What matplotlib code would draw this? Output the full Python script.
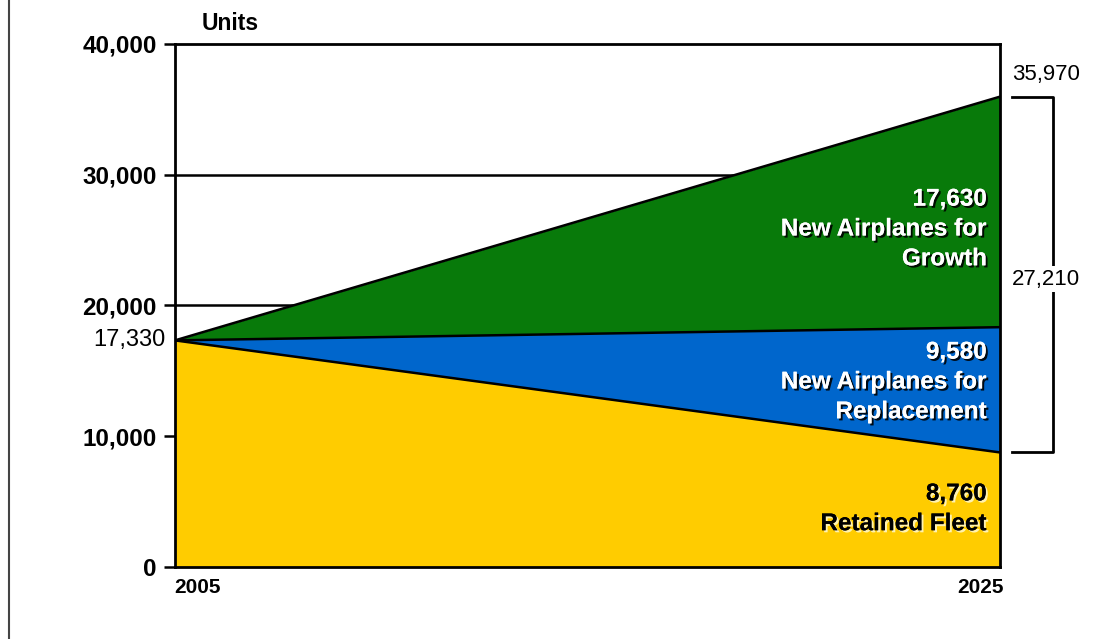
import matplotlib.pyplot as plt
import matplotlib.patheffects as pe
import matplotlib.transforms as mtransforms

# data
years = [2005, 2025]
retained = [17330, 8760]
replacement = [0, 9580]
growth = [0, 17630]
total_2025 = 35970
new_total = 27210

colors = ["#FFCC00", "#0066CC", "#087A0A"]

plt.rcParams["font.family"] = ["Liberation Sans", "DejaVu Sans"]

fig = plt.figure(figsize=(10.93, 6.39), dpi=100)
ax = fig.add_axes([0.1601, 0.1127, 0.7548, 0.8185])
bt = mtransforms.blended_transform_factory(ax.transAxes, ax.transData)

# stacked areas
lvl1 = retained
lvl2 = [a + b for a, b in zip(lvl1, replacement)]
lvl3 = [a + b for a, b in zip(lvl2, growth)]
ax.fill_between(years, 0, lvl1, color=colors[0], lw=0, zorder=2)
ax.fill_between(years, lvl1, lvl2, color=colors[1], lw=0, zorder=2)
ax.fill_between(years, lvl2, lvl3, color=colors[2], lw=0, zorder=2)
for lv in (lvl1, lvl2, lvl3):
    ax.plot(years, lv, color="black", lw=1.8, zorder=3, solid_capstyle="butt")

ax.set_xlim(2005, 2025)
ax.set_ylim(0, 40000)

# gridlines
for v in (20000, 30000):
    ax.axhline(v, color="black", lw=1.8, zorder=1)

for s in ax.spines.values():
    s.set_linewidth(2)
    s.set_zorder(4)

ax.set_xticks([])
yt = [0, 10000, 20000, 30000, 40000]
ax.set_yticks(yt)
ax.set_yticklabels([f"{v:,}" for v in yt], fontsize=17.5, fontweight="bold")
ax.tick_params(axis="y", direction="out", length=8, width=1.8, pad=5)

# axis labels
ax.text(-0.0012, -0.04, "2005", transform=ax.transAxes, ha="left", va="center",
        fontsize=15, fontweight="bold")
ax.text(1.004, -0.04, "2025", transform=ax.transAxes, ha="right", va="center",
        fontsize=15, fontweight="bold")
fig.text(202 / 1093, 1 - 24 / 639, "Units", ha="left", va="center", fontsize=16.5,
         fontweight="bold")

ax.text(-0.012, retained[0], f"{retained[0]:,}", transform=bt,
        ha="right", va="center", fontsize=17)

# in-area labels
shadow = [pe.withSimplePatchShadow(offset=(1.5, -1.5), shadow_rgbFace="black", alpha=0.9), pe.Normal()]
light = [pe.withSimplePatchShadow(offset=(1.5, -1.5), shadow_rgbFace="#FFF2B0", alpha=1.0), pe.Normal()]
xr = 0.984
ax.text(xr, 25850, f"{growth[1]:,}\nNew Airplanes for\nGrowth", transform=bt,
        ha="right", va="center", fontsize=17.5, fontweight="bold", color="white",
        linespacing=1.38, path_effects=shadow, zorder=5)
ax.text(xr, 14150, f"{replacement[1]:,}\nNew Airplanes for\nReplacement", transform=bt,
        ha="right", va="center", fontsize=17.5, fontweight="bold", color="white",
        linespacing=1.38, path_effects=shadow, zorder=5)
ax.text(xr, 4450, f"{retained[1]:,}\nRetained Fleet", transform=bt,
        ha="right", va="center", fontsize=17.5, fontweight="bold", color="black",
        linespacing=1.38, path_effects=light, zorder=5)

# bracket on right
x0, x1 = 1.0145, 1.0642
ax.plot([x0, x1, x1, x0], [lvl3[1], lvl3[1], lvl1[1], lvl1[1]], color="black", lw=2,
        transform=bt, clip_on=False)
ax.text(1.0145, lvl3[1] + 900, f"{total_2025:,}", transform=bt, ha="left", va="bottom",
        fontsize=16, clip_on=False)
ax.text(1.0145, 22000, f"{new_total:,}", transform=bt, ha="left", va="center",
        fontsize=16, clip_on=False,
        bbox=dict(facecolor="white", edgecolor="none", pad=2))

# frame line on the left
fig.add_artist(plt.Line2D([9 / 1093, 9 / 1093], [0, 1], color="#444444", lw=1.5))

plt.savefig("out.png", dpi=100)
